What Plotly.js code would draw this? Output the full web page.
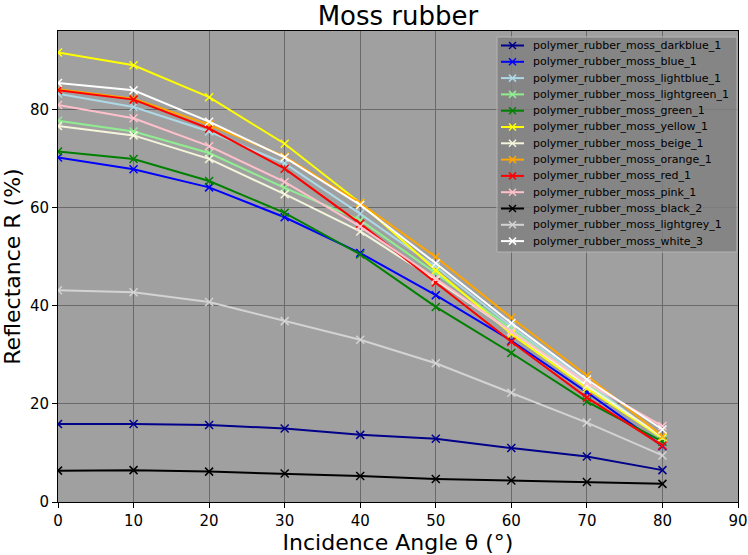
<!DOCTYPE html>
<html>
<head>
<meta charset="utf-8">
<script src="https://cdn.plot.ly/plotly-3.0.1.min.js"></script>
<style>html,body{margin:0;padding:0;background:#fff;}#chart{width:748px;height:555px;}</style>
</head>
<body>
<div id="chart"></div>
<script>
const angles = [0, 10, 20, 30, 40, 50, 60, 70, 80];

const names = [
  "polymer_rubber_moss_darkblue_1",
  "polymer_rubber_moss_blue_1",
  "polymer_rubber_moss_lightblue_1",
  "polymer_rubber_moss_lightgreen_1",
  "polymer_rubber_moss_green_1",
  "polymer_rubber_moss_yellow_1",
  "polymer_rubber_moss_beige_1",
  "polymer_rubber_moss_orange_1",
  "polymer_rubber_moss_red_1",
  "polymer_rubber_moss_pink_1",
  "polymer_rubber_moss_black_2",
  "polymer_rubber_moss_lightgrey_1",
  "polymer_rubber_moss_white_3"
];

const darkblue   = [15.9, 15.9, 15.7, 15.0, 13.7, 12.9, 11.0, 9.3, 6.5];
const blue       = [70.3, 67.9, 64.2, 58.1, 50.8, 42.2, 32.9, 22.4, 11.4];
const lightblue  = [83.3, 80.6, 75.6, 69.1, 58.8, 48.0, 35.8, 24.5, 12.8];
const lightgreen = [77.8, 75.6, 71.2, 64.1, 57.5, 46.7, 35.3, 24.0, 12.8];
const green      = [71.5, 70.0, 65.5, 59.0, 50.5, 39.8, 30.4, 20.5, 12.3];
const yellow     = [91.7, 89.1, 82.6, 73.1, 61.0, 47.3, 34.3, 23.2, 13.1];
const beige      = [76.7, 74.8, 70.0, 62.8, 55.2, 45.3, 34.8, 23.7, 13.3];
const orange     = [84.2, 82.3, 77.0, 70.5, 61.0, 50.0, 37.6, 25.8, 13.4];
const red        = [84.0, 82.1, 76.2, 68.0, 56.8, 44.8, 32.7, 21.3, 11.5];
const pink       = [81.0, 78.3, 72.6, 65.3, 56.2, 45.6, 34.8, 24.3, 15.5];
const black      = [6.4, 6.5, 6.2, 5.8, 5.3, 4.7, 4.4, 4.1, 3.7];
const lightgrey  = [43.2, 42.8, 40.8, 36.9, 33.1, 28.3, 22.3, 16.2, 9.5];
const white      = [85.5, 84.0, 77.6, 70.3, 60.6, 48.7, 36.5, 25.0, 14.8];

const series = [darkblue, blue, lightblue, lightgreen, green, yellow, beige, orange, red, pink, black, lightgrey, white];
const colors = ["#00008b", "#0000ff", "#add8e6", "#90ee90", "#008000", "#ffff00", "#f5f5dc", "#ffa500", "#ff0000", "#ffc0cb", "#000000", "#d3d3d3", "#ffffff"];

const traces = series.map((vals, i) => ({
  x: angles,
  y: vals,
  name: names[i],
  type: "scatter",
  mode: "lines+markers",
  showlegend: false,
  line: {color: colors[i], width: 2},
  marker: {symbol: "x-thin", size: 8, line: {color: colors[i], width: 1.5}}
}));

const font = "DejaVu Sans, sans-serif";

// plot-area geometry in pixels (for the hand-drawn legend box)
const W = 748, H = 555;
const M = {l: 58, r: 10, t: 31, b: 53};
const PW = W - M.l - M.r, PH = H - M.t - M.b;
const px = v => (v - M.l) / PW;
const py = v => (H - M.b - v) / PH;

const shapes = [];
const annotations = [];
const LG = {left: 497, right: 737, top: 37, bottom: 252, first: 45.5, pitch: 16.3, lx0: 501, lx1: 524, tx: 531, ms: 3.5};
shapes.push({type: "rect", xref: "paper", yref: "paper", x0: px(LG.left), x1: px(LG.right), y0: py(LG.top), y1: py(LG.bottom),
  fillcolor: "rgba(128,128,128,0.85)", line: {color: "#b4b4b4", width: 1}, layer: "above"});
names.forEach((nm, i) => {
  const cy = LG.first + LG.pitch * i;
  const cx = (LG.lx0 + LG.lx1) / 2;
  shapes.push({type: "line", xref: "paper", yref: "paper", x0: px(LG.lx0), x1: px(LG.lx1), y0: py(cy), y1: py(cy),
    line: {color: colors[i], width: 2}, layer: "above"});
  shapes.push({type: "line", xref: "paper", yref: "paper", x0: px(cx - LG.ms), x1: px(cx + LG.ms), y0: py(cy - LG.ms), y1: py(cy + LG.ms),
    line: {color: colors[i], width: 1.5}, layer: "above"});
  shapes.push({type: "line", xref: "paper", yref: "paper", x0: px(cx - LG.ms), x1: px(cx + LG.ms), y0: py(cy + LG.ms), y1: py(cy - LG.ms),
    line: {color: colors[i], width: 1.5}, layer: "above"});
  annotations.push({xref: "paper", yref: "paper", x: px(LG.tx), y: py(cy), xanchor: "left", yanchor: "middle",
    text: nm, showarrow: false, font: {family: font, size: 11, color: "#000"}});
});

const layout = {
  width: W,
  height: H,
  margin: M,
  paper_bgcolor: "#ffffff",
  plot_bgcolor: "#a0a0a0",
  font: {family: font, color: "#000"},
  title: {text: "Moss rubber", font: {family: font, size: 26, color: "#000"}, x: 0.532, xanchor: "center", y: 0.972, yanchor: "middle"},
  xaxis: {
    range: [0, 90],
    tickvals: [0, 10, 20, 30, 40, 50, 60, 70, 80, 90],
    showgrid: true, gridcolor: "#6a6a6a", gridwidth: 1,
    showline: true, linecolor: "#000", linewidth: 1, mirror: true,
    ticks: "outside", ticklen: 5, tickcolor: "#000",
    tickfont: {family: font, size: 15, color: "#000"},
    zeroline: false,
    title: {text: "Incidence Angle θ (°)", font: {family: font, size: 22, color: "#000"}, standoff: 3}
  },
  yaxis: {
    range: [0, 96.1],
    tickvals: [0, 20, 40, 60, 80],
    showgrid: true, gridcolor: "#6a6a6a", gridwidth: 1,
    showline: true, linecolor: "#000", linewidth: 1, mirror: true,
    ticks: "outside", ticklen: 5, tickcolor: "#000",
    tickfont: {family: font, size: 15, color: "#000"},
    zeroline: false,
    title: {text: "Reflectance R (%)", font: {family: font, size: 22, color: "#000"}, standoff: 6}
  },
  showlegend: false,
  shapes: shapes,
  annotations: annotations
};

Plotly.newPlot("chart", traces, layout, {displayModeBar: false, staticPlot: true});
</script>
</body>
</html>
